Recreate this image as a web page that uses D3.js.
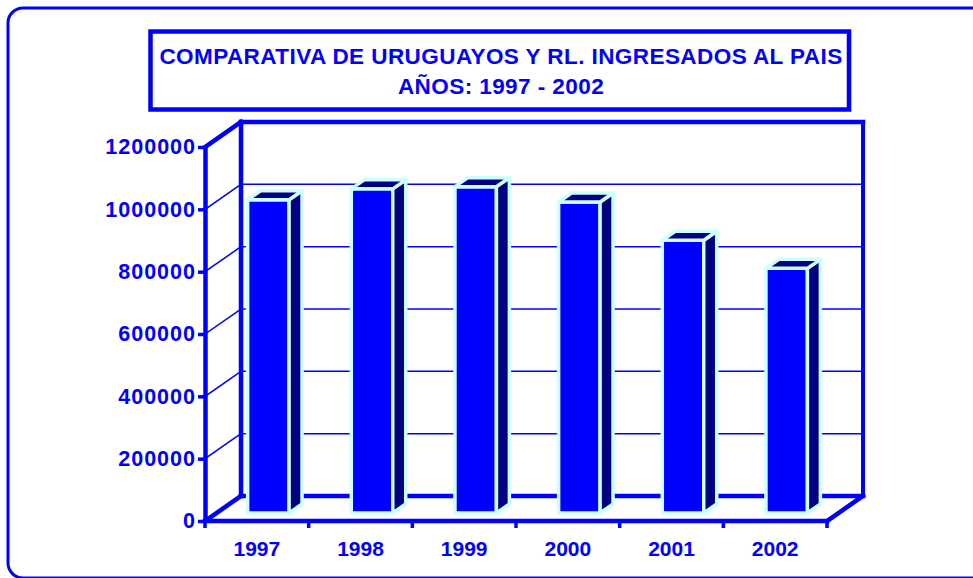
<!DOCTYPE html>
<html>
<head>
<meta charset="utf-8">
<script src="https://cdn.jsdelivr.net/npm/d3@7"></script>
<style>
  html, body { margin: 0; padding: 0; background: #fff; }
  svg { display: block; }
  text { font-family: "Liberation Sans", Arial, sans-serif; font-weight: bold; fill: #0000FF; }
</style>
</head>
<body>
<svg id="chart" width="973" height="578"></svg>
<script>
// ---- data ----
const categories = ["1997", "1998", "1999", "2000", "2001", "2002"];
const values = [1005000, 1040000, 1047000, 998000, 875000, 785000];
const yTicks = [0, 200000, 400000, 600000, 800000, 1000000, 1200000];
const titleLines = ["COMPARATIVA DE URUGUAYOS Y RL. INGRESADOS AL PAIS", "AÑOS: 1997 - 2002"];

// ---- layout ----
const BLUE = "#0000FF", NAVY = "#000080", CYAN = "#CCFFFF";
const frontLeft = 205, frontRight = 827, yZero = 521, yTopPx = 147;
const DX = 36, DY = -25;           // depth of the 3D box
const barFront = 0.32, barDepth = 0.36; // bar position within depth
const barFrac = 0.40;

const svg = d3.select("#chart");

const x = d3.scaleBand().domain(categories).range([frontLeft, frontRight]).padding(0);
const y = d3.scaleLinear().domain([0, 1200000]).range([yZero, yTopPx]);

// outer rounded border
svg.append("rect").attr("x", 8).attr("y", 8).attr("width", 1000).attr("height", 570)
  .attr("rx", 15).attr("ry", 15).attr("fill", "none").attr("stroke", BLUE).attr("stroke-width", 3);

// title box
svg.append("rect").attr("x", 150.5).attr("y", 31.5).attr("width", 698.5).attr("height", 78)
  .attr("fill", "#fff").attr("stroke", BLUE).attr("stroke-width", 4.5);
svg.selectAll("text.title").data(titleLines).join("text").attr("class", "title")
  .attr("x", 501).attr("y", (d, i) => 64 + i * 29.5)
  .attr("text-anchor", "middle").attr("font-size", 22.5).attr("letter-spacing", 0.43).text(d => d);

const g = svg.append("g");
const line = (x1, y1, x2, y2, w) => g.append("line")
  .attr("x1", x1).attr("y1", y1).attr("x2", x2).attr("y2", y2)
  .attr("stroke", BLUE).attr("stroke-width", w).attr("stroke-linecap", "square");

// gridlines on back wall and side wall
yTicks.filter(t => t > 0 && t < 1200000).forEach(t => {
  line(frontLeft + DX, y(t) + DY, frontRight + DX, y(t) + DY, 1.5);
  line(frontLeft, y(t), frontLeft + DX, y(t) + DY, 1.5);
});

// walls (thick)
const yMax = y(1200000);
line(frontLeft + DX, yMax + DY, frontRight + DX, yMax + DY, 4.5);      // back top
line(frontLeft + DX, yMax + DY, frontLeft + DX, yZero + DY, 4.5);       // back left
line(frontRight + DX, yMax + DY, frontRight + DX, yZero + DY, 4);       // back right
line(frontLeft + DX, yZero + DY, frontRight + DX, yZero + DY, 4.5);     // back floor
line(frontLeft, yMax, frontLeft + DX, yMax + DY, 4.5);                  // top-left diagonal
line(frontLeft, yZero, frontLeft + DX, yZero + DY, 4.5);                // floor-left diagonal
line(frontRight, yZero, frontRight + DX, yZero + DY, 4.5);              // floor-right diagonal
line(frontLeft, yZero, frontRight, yZero, 4.5);                          // front floor

// bars
const fdx = DX * barFront, fdy = DY * barFront;
const bdx = DX * barDepth, bdy = DY * barDepth;
const barW = x.bandwidth() * barFrac;
const pts = p => p.map(q => q.join(",")).join(" ");
const bars = g.selectAll("g.bar").data(categories.map((c, i) => ({ c, v: values[i] })))
  .join("g").attr("class", "bar");
bars.each(function (d) {
  const L = x(d.c) + x.bandwidth() / 2 - barW / 2 + fdx;
  const R = L + barW;
  const top = y(d.v) + fdy, bot = y(0) + fdy;
  const sel = d3.select(this);
  const face = (p, fill) => sel.append("polygon").attr("points", pts(p))
    .attr("fill", fill).attr("stroke", CYAN).attr("stroke-width", 3.5).attr("stroke-linejoin", "round");
  face([[L, top], [R, top], [R, bot], [L, bot]], BLUE);
  face([[R, top], [R + bdx, top + bdy], [R + bdx, bot + bdy], [R, bot]], NAVY);
  face([[L, top], [L + bdx, top + bdy], [R + bdx, top + bdy], [R, top]], NAVY);
});

// y axis (front)
const yAxis = d3.axisLeft(y).tickValues(yTicks).tickSize(7).tickSizeOuter(0).tickPadding(2)
  .tickFormat(d3.format("d"));
const ya = svg.append("g").attr("transform", `translate(${frontLeft},0)`).call(yAxis);
ya.select(".domain").attr("stroke", BLUE).attr("stroke-width", 4.5);
ya.selectAll(".tick line").attr("stroke", BLUE).attr("stroke-width", 3.5);
ya.selectAll(".tick text").attr("fill", BLUE).attr("font-size", 21.5).attr("letter-spacing", 1)
  .attr("font-family", '"Liberation Sans", Arial, sans-serif').attr("font-weight", "bold");

// x ticks at band boundaries
const bounds = categories.map(c => x(c)).concat([frontRight]);
svg.selectAll("line.xt").data(bounds).join("line").attr("class", "xt")
  .attr("x1", d => d).attr("x2", d => d).attr("y1", yZero).attr("y2", yZero + 7)
  .attr("stroke", BLUE).attr("stroke-width", 3.5);

// x labels
const xAxis = d3.axisBottom(x).tickSize(0).tickPadding(0);
const xa = svg.append("g").attr("transform", `translate(0,${yZero})`).call(xAxis);
xa.select(".domain").remove();
xa.selectAll(".tick text").attr("fill", BLUE).attr("font-size", 21).attr("dy", null).attr("y", 35)
  .attr("font-family", '"Liberation Sans", Arial, sans-serif').attr("font-weight", "bold");
</script>
</body>
</html>
